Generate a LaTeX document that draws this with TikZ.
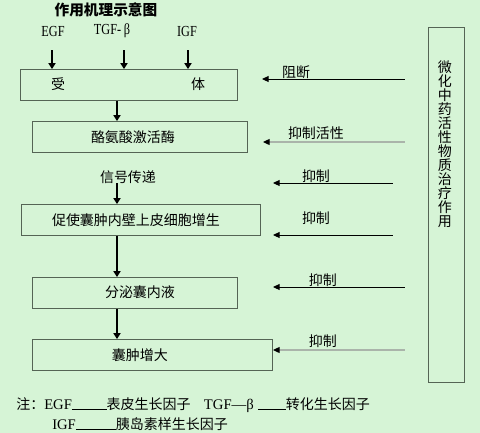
\documentclass[tikz,border=0pt]{standalone}
\usepackage{fontspec}
\setmainfont{Noto Sans CJK SC}
\newfontfamily\latf[FakeStretch=0.8]{Liberation Serif}
\newfontfamily\latn{Liberation Serif}
\newcommand{\lat}{\latf\fontsize{11.5pt}{12pt}\selectfont}
\newcommand{\latb}{\latn\fontsize{11pt}{12pt}\selectfont}
\usetikzlibrary{arrows.meta}
\definecolor{bg}{RGB}{214,244,214}
\definecolor{frame}{RGB}{85,100,85}
\definecolor{lg}{RGB}{170,180,170}
\begin{document}
\begin{tikzpicture}[x=0.75pt,y=-0.75pt,
  font=\fontsize{10.5pt}{12pt}\selectfont,
  box/.style={draw=frame, line width=0.6pt, inner sep=0pt, anchor=north west},
  txt/.style={inner sep=0pt},
  down/.style={-{Triangle[length=4.5pt,width=5.5pt]}, line width=0.8pt, black},
  left/.style={-{Triangle[length=5pt,width=4.5pt]}, line width=0.7pt, black},
  leftg/.style={-{Triangle[length=5pt,width=4.5pt,color=black]}, line width=0.9pt, lg}]
\useasboundingbox (0,0) rectangle (480,433);
\fill[bg] (0,0) rectangle (480,433);

% title
\node[txt] (title) at (106,10) {\fontsize{11pt}{12pt}\selectfont\bfseries 作用机理示意图};

% factors
\node[txt] (egf) at (53,31) {\lat EGF};
\node[txt] (tgf) at (112,31) {\lat TGF-\,β};
\node[txt] (igf) at (187,31) {\lat IGF};

% boxes
\node[box, minimum width=162.75pt, minimum height=23.25pt] (b1) at (20,69) {};
\node[box, minimum width=161.25pt, minimum height=23.25pt] (b2) at (32,121) {};
\node[box, minimum width=179.25pt, minimum height=23.25pt] (b3) at (21,204) {};
\node[box, minimum width=153.75pt, minimum height=23.25pt] (b4) at (32,277) {};
\node[box, minimum width=180pt, minimum height=23.25pt] (b5) at (32,339) {};
\node[box, minimum width=27pt, minimum height=266.25pt] (side) at (428,27) {};

% box texts
\node[txt] (t1a) at (58,84) {受};
\node[txt] (t1b) at (198,84) {体};
\node[txt] (t2) at (133,137) {酪氨酸激活酶};
\node[txt] (sig) at (128,177) {信号传递};
\node[txt] (t3) at (136,220) {促使囊肿内壁上皮细胞增生};
\node[txt] (t4) at (140,292) {分泌囊内液};
\node[txt] (t5) at (140,355) {囊肿增大};
\node[txt, align=center, font=\fontsize{10.5pt}{10.5pt}\selectfont] (sidet) at (445,144)
  {微\\化\\中\\药\\活\\性\\物\\质\\治\\疗\\作\\用};

% top arrows
\coordinate (ae) at (52,50);
\coordinate (at) at (124,50);
\coordinate (ai) at (188,50);
\draw[down] (ae) -- (ae |- b1.north);
\draw[down] (at) -- (at |- b1.north);
\draw[down] (ai) -- (ai |- b1.north);

% vertical flow
\coordinate (col) at (117,0);
\coordinate (s0) at (117,183);
\draw[down] (b1.south -| col) -- (b2.north -| col);
\draw[down] (s0) -- (b3.north -| col);
\draw[down] (b3.south -| col) -- (b4.north -| col);
\draw[down] (b4.south -| col) -- (b5.north -| col);

% right arrows
\coordinate (r1) at (405,79);  \coordinate (e1) at (262,79);
\coordinate (r2) at (405,142); \coordinate (e2) at (263,142);
\coordinate (r3) at (393,183); \coordinate (e3) at (273,183);
\coordinate (r4) at (393,235); \coordinate (e4) at (273,235);
\coordinate (r5) at (405,287); \coordinate (e5) at (273,287);
\coordinate (r6) at (405,350); \coordinate (e6) at (273,350);
\draw[left] (r1) -- (e1);
\draw[leftg] (r2) -- (e2);
\draw[left] (r3) -- (e3);
\draw[left] (r4) -- (e4);
\draw[left] (r5) -- (e5);
\draw[leftg] (r6) -- (e6);
\node[txt] (l1) at (296,72) {阻断};
\node[txt] (l2) at (316,133) {抑制活性};
\node[txt] (l3) at (316,176) {抑制};
\node[txt] (l4) at (316,218) {抑制};
\node[txt] (l5) at (323,280) {抑制};
\node[txt] (l6) at (323,341) {抑制};

% notes
\node[txt, anchor=base west] (n1) at (16,409)
  {注：{\latb EGF}\rule[-0.5pt]{26pt}{0.5pt}表皮生长因子\hspace{10pt}{\latb TGF—β}\hspace{3pt}\rule[-0.5pt]{21pt}{0.5pt}转化生长因子};
\node[txt, anchor=base west] (n2) at (52,429)
  {{\latb IGF}\rule[-0.5pt]{30pt}{0.5pt}胰岛素样生长因子};
\end{tikzpicture}
\end{document}
